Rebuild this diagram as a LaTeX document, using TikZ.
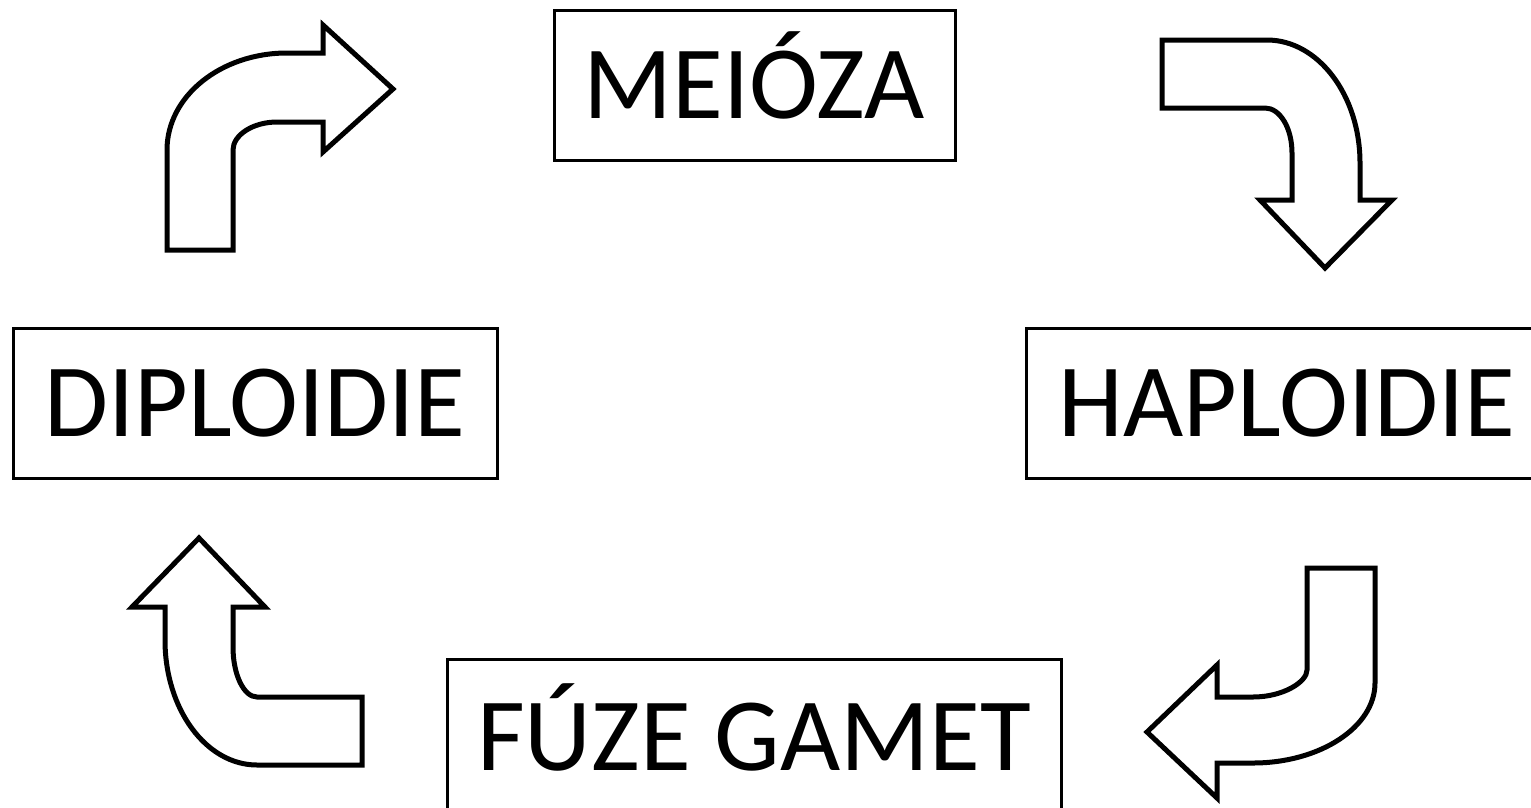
\documentclass[tikz,border=0pt]{standalone}
\usepackage{fontspec}
\setmainfont{Carlito}
\begin{document}
\begin{tikzpicture}[x=1pt, y=-1pt,
        every node/.style={font=\fontsize{104pt}{110pt}\selectfont},
        stagebox/.style={draw=black, line width=3pt, fill=white, inner sep=0pt,
            minimum height=150pt, text height=66pt, text depth=0pt, align=center},
        bentarrow/.style={draw=black, line width=5pt, fill=white, line join=miter}]
      \useasboundingbox (0,0) rectangle (1531,807);
      % the four stages
      \node[stagebox, minimum width=401pt] (MEI) at (754.5,85) {MEIÓZA};
      \node[stagebox, minimum width=522pt] (HAP) at (1287,403.5) {HAPLOIDIE};
      \node[stagebox, minimum width=614pt, minimum height=156pt] (FUZ) at (754,737) {FÚZE GAMET};
      \node[stagebox, minimum width=484pt] (DIP) at (255,403.5) {DIPLOIDIE};
      % diploidie -> meioza
      \path[bentarrow] (167,250) -- (233,250) -- (233,150)
            .. controls (233,135) and (253,122) .. (277,122) -- (323,122) -- (323,152)
            -- (393,89) -- (323,25) -- (323,53) -- (287,53)
            .. controls (221,53) and (167,96) .. (167,150) -- cycle;
      % meioza -> haploidie
      \path[bentarrow] (1162,40) -- (1267,40)
            .. controls (1318,40) and (1360,95) .. (1360,163) -- (1360,200) -- (1392,200)
            -- (1325,268) -- (1260,200) -- (1292,200) -- (1292,153)
            .. controls (1292,128) and (1280,108) .. (1265,108) -- (1162,108) -- cycle;
      % haploidie -> fuze gamet
      \path[bentarrow] (1307,568) -- (1375,568) -- (1375,683)
            .. controls (1375,727) and (1320,763) .. (1253,763) -- (1217,763) -- (1217,798)
            -- (1147,732) -- (1217,665) -- (1217,697) -- (1253,697)
            .. controls (1283,697) and (1307,682) .. (1307,670) -- cycle;
      % fuze gamet -> diploidie
      \path[bentarrow] (362,697) -- (362,765) -- (257,765)
            .. controls (206,765) and (165,709) .. (165,640) -- (165,607) -- (132,607)
            -- (199,538) -- (265,607) -- (233,607) -- (233,647)
            .. controls (233,675) and (244,697) .. (257,697) -- cycle;
    \end{tikzpicture}
\end{document}
